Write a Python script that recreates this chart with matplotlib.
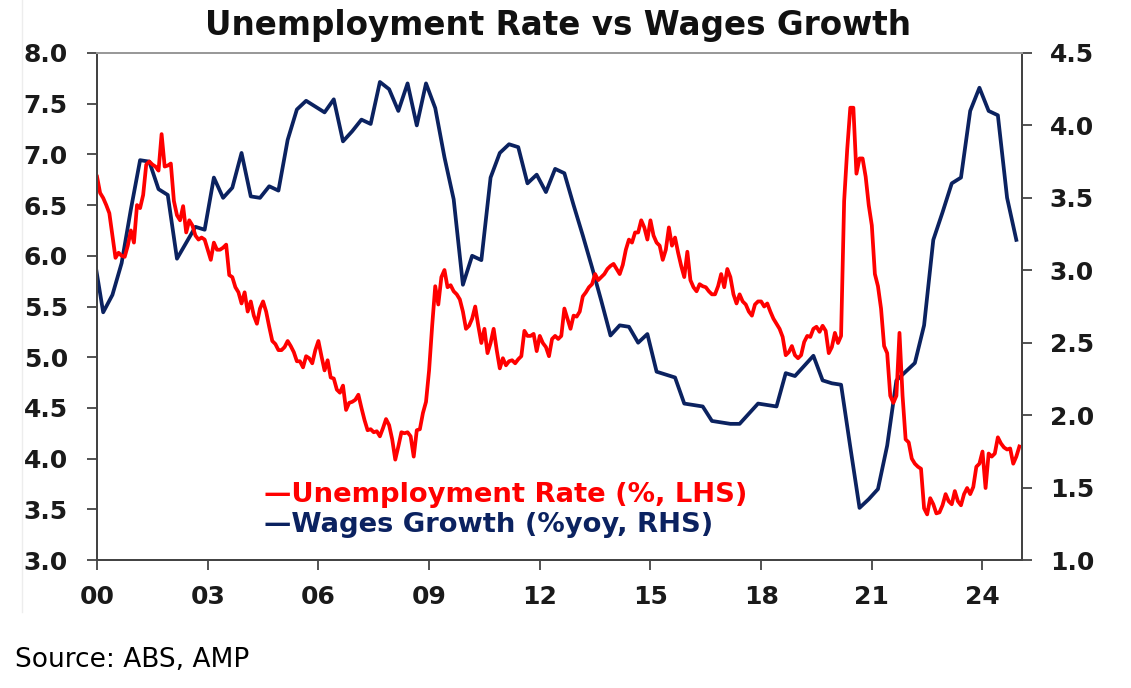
import numpy as np
import matplotlib
matplotlib.use("Agg")
import matplotlib.pyplot as plt
from matplotlib.lines import Line2D

plt.rcParams["font.family"] = ["DejaVu Sans"]

# Unemployment rate, monthly from Jan 2000 (% , LHS)
unemp = [
    6.78, 6.62, 6.57, 6.50, 6.42, 6.20, 5.98, 6.03, 6.00, 5.99, 6.10, 6.25,  # 2000
    6.13, 6.50, 6.47, 6.60, 6.90, 6.93, 6.90, 6.88, 6.84, 7.20, 6.88, 6.89,  # 2001
    6.91, 6.54, 6.40, 6.35, 6.49, 6.23, 6.35, 6.30, 6.20, 6.16, 6.18, 6.16,  # 2002
    6.06, 5.96, 6.13, 6.06, 6.06, 6.08, 6.11, 5.81, 5.79, 5.69, 5.64, 5.53,  # 2003
    5.64, 5.45, 5.55, 5.41, 5.33, 5.48, 5.55, 5.45, 5.30, 5.16, 5.13, 5.07,  # 2004
    5.07, 5.10, 5.16, 5.11, 5.05, 4.96, 4.96, 4.90, 5.01, 4.99, 4.94, 5.07,  # 2005
    5.16, 5.01, 4.87, 4.97, 4.80, 4.79, 4.68, 4.65, 4.72, 4.48, 4.55, 4.56,  # 2006
    4.58, 4.63, 4.50, 4.38, 4.28, 4.29, 4.26, 4.27, 4.22, 4.30, 4.39, 4.33,  # 2007
    4.19, 3.99, 4.12, 4.26, 4.25, 4.26, 4.22, 4.02, 4.28, 4.29, 4.45, 4.56,  # 2008
    4.87, 5.31, 5.70, 5.52, 5.79, 5.86, 5.69, 5.71, 5.65, 5.62, 5.57, 5.45,  # 2009
    5.28, 5.31, 5.38, 5.50, 5.31, 5.14, 5.28, 5.04, 5.14, 5.28, 5.07, 4.89,  # 2010
    4.99, 4.92, 4.96, 4.97, 4.94, 4.98, 5.01, 5.26, 5.21, 5.21, 5.23, 5.06,  # 2011
    5.21, 5.14, 5.10, 5.01, 5.18, 5.21, 5.18, 5.21, 5.48, 5.38, 5.28, 5.41,  # 2012
    5.40, 5.45, 5.60, 5.64, 5.69, 5.72, 5.82, 5.76, 5.79, 5.82, 5.87, 5.90,  # 2013
    5.92, 5.87, 5.82, 5.91, 6.06, 6.16, 6.13, 6.23, 6.23, 6.35, 6.28, 6.16,  # 2014
    6.35, 6.20, 6.13, 6.10, 5.96, 6.06, 6.28, 6.10, 6.18, 6.03, 5.90, 5.79,  # 2015
    6.04, 5.76, 5.69, 5.65, 5.72, 5.70, 5.69, 5.65, 5.62, 5.62, 5.70, 5.82,  # 2016
    5.69, 5.87, 5.79, 5.62, 5.53, 5.62, 5.55, 5.52, 5.45, 5.41, 5.52, 5.55,  # 2017
    5.55, 5.50, 5.53, 5.45, 5.38, 5.33, 5.28, 5.20, 5.02, 5.05, 5.11, 5.02,  # 2018
    4.99, 5.02, 5.15, 5.21, 5.20, 5.28, 5.30, 5.25, 5.31, 5.26, 5.04, 5.10,  # 2019
    5.24, 5.14, 5.21, 6.54, 7.05, 7.46, 7.46, 6.81, 6.96, 6.96, 6.78, 6.50,  # 2020
    6.30, 5.82, 5.70, 5.48, 5.11, 5.04, 4.62, 4.55, 4.62, 5.24, 4.62, 4.19,  # 2021
    4.16, 4.00, 3.95, 3.92, 3.90, 3.51, 3.45, 3.61, 3.55, 3.46, 3.47, 3.54,  # 2022
    3.65, 3.58, 3.55, 3.68, 3.58, 3.54, 3.65, 3.71, 3.65, 3.72, 3.92, 3.95,  # 2023
    4.07, 3.71, 4.05, 4.02, 4.05, 4.21, 4.15, 4.11, 4.09, 4.10, 3.95, 4.02,  # 2024
    4.12,                                                                    # 2025
]

# Wages growth, quarterly from Dec 1999 (%yoy, RHS)
wages = [
    3.10,
    2.71, 2.83, 3.05, 3.42,  # 2000
    3.76, 3.75, 3.56, 3.52,  # 2001
    3.08, 3.19, 3.30, 3.28,  # 2002
    3.64, 3.50, 3.57, 3.81,  # 2003
    3.51, 3.50, 3.58, 3.55,  # 2004
    3.90, 4.11, 4.17, 4.13,  # 2005
    4.09, 4.18, 3.89, 3.96,  # 2006
    4.04, 4.01, 4.30, 4.25,  # 2007
    4.10, 4.29, 4.00, 4.29,  # 2008
    4.12, 3.78, 3.49, 2.90,  # 2009
    3.10, 3.07, 3.64, 3.81,  # 2010
    3.87, 3.85, 3.60, 3.66,  # 2011
    3.54, 3.70, 3.67, 3.45,  # 2012
    3.24, 3.02, 2.79, 2.55,  # 2013
    2.62, 2.61, 2.50, 2.56,  # 2014
    2.30, 2.28, 2.26, 2.08,  # 2015
    2.07, 2.06, 1.96, 1.95,  # 2016
    1.94, 1.94, 2.01, 2.08,  # 2017
    2.07, 2.06, 2.29, 2.27,  # 2018
    2.34, 2.41, 2.24, 2.22,  # 2019
    2.21, 1.78, 1.36, 1.42,  # 2020
    1.49, 1.79, 2.24, 2.30,  # 2021
    2.36, 2.62, 3.21, 3.40,  # 2022
    3.60, 3.64, 4.10, 4.26,  # 2023
    4.10, 4.07, 3.50, 3.21,  # 2024
]

unemp_dates = 2000 + np.arange(len(unemp)) / 12
wage_dates = 1999 + 11 / 12 + np.arange(len(wages)) * 0.25

xticks = [2000, 2003, 2006, 2009, 2012, 2015, 2018, 2021, 2024]
xlabels = ["00", "03", "06", "09", "12", "15", "18", "21", "24"]

red = "#ff0000"
navy = "#0b2260"
txt = "#1a1a1a"

fig = plt.figure(figsize=(11.31, 6.88), dpi=100)
ax = fig.add_axes([0.0858, 0.186, 0.8178, 0.737])
ax2 = ax.twinx()

ax2.plot(wage_dates, wages, color=navy, lw=2.7)
ax.plot(unemp_dates, unemp, color=red, lw=2.7)

# red line on top of the navy one
ax.set_zorder(ax2.get_zorder() + 1)
ax.patch.set_visible(False)

ax.set_xlim(2000, 2025.07)
ax.set_ylim(3.0, 8.0)
ax2.set_ylim(1.0, 4.5)
ax.set_yticks(np.arange(3.0, 8.01, 0.5))
ax2.set_yticks(np.arange(1.0, 4.51, 0.5))
ax.set_xticks(xticks)
ax.set_xticklabels(xlabels)

for a in (ax, ax2):
    a.tick_params(direction="out", length=7, width=1.3, color="#444444",
                  labelsize=18, labelcolor=txt)
    for s in ("left", "right", "bottom"):
        a.spines[s].set_color("#444444")
        a.spines[s].set_linewidth(1.4)
    a.spines["top"].set_color("#999999")
    a.spines["top"].set_linewidth(1.4)
ax.tick_params(axis="x", pad=11)
ax.tick_params(axis="y", pad=14)
ax2.tick_params(axis="y", pad=13)
for lab in ax.get_xticklabels() + ax.get_yticklabels() + ax2.get_yticklabels():
    lab.set_fontweight("bold")
ax.yaxis.set_major_formatter(matplotlib.ticker.FormatStrFormatter("%.1f"))
ax2.yaxis.set_major_formatter(matplotlib.ticker.FormatStrFormatter("%.1f"))

fig.text(0.493, 0.949, "Unemployment Rate vs Wages Growth", ha="center", va="baseline",
         fontsize=23.5, fontweight="bold", color="#111111")

ax.text(0.181, 0.1144, "\u2014Unemployment Rate (%, LHS)", transform=ax.transAxes,
        fontsize=19.7, fontweight="bold", color=red, va="baseline")
ax.text(0.181, 0.0552, "\u2014Wages Growth (%yoy, RHS)", transform=ax.transAxes,
        fontsize=19.7, fontweight="bold", color=navy, va="baseline")

fig.text(0.013, 0.04, "Source: ABS, AMP", fontsize=19, color="#000000", va="center")

# faint frame edge on the left of the original picture
fig.add_artist(Line2D([0.0195, 0.0195], [0.11, 1.0], transform=fig.transFigure,
                      color="#ededed", lw=1))

fig.savefig("out.png", dpi=100)
